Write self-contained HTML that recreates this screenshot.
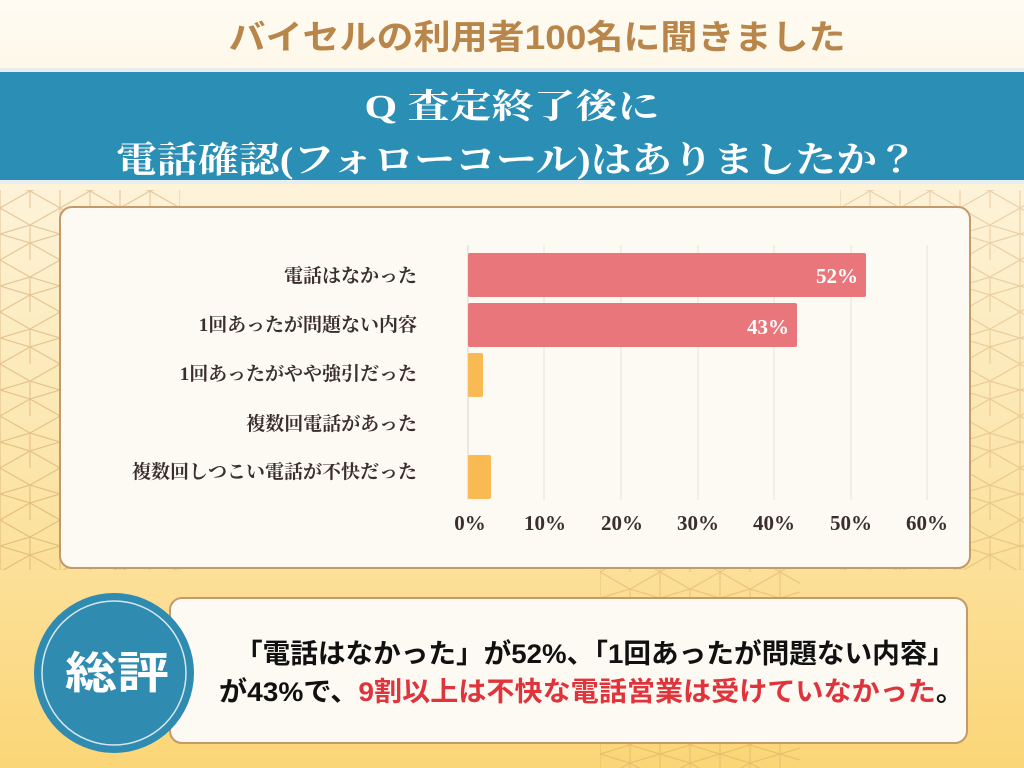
<!DOCTYPE html>
<html><head><meta charset="utf-8"><style>
html,body{margin:0;padding:0;width:1024px;height:768px;overflow:hidden}
svg{display:block}
.s{font-family:"Liberation Serif","Noto Serif CJK JP","Noto Serif CJK SC",serif;font-weight:bold}
.g{font-family:"Liberation Sans","Noto Sans CJK JP",sans-serif;font-weight:bold}
</style></head><body>
<svg width="1024" height="768" viewBox="0 0 1024 768" xmlns="http://www.w3.org/2000/svg">
<defs>
<linearGradient id="bg" x1="0" y1="0" x2="0" y2="1">
<stop offset="0" stop-color="#fffbf3"/><stop offset="0.3" stop-color="#fdf1d2"/><stop offset="1" stop-color="#fbd677"/>
</linearGradient>
<pattern id="asa" width="60" height="52" patternUnits="userSpaceOnUse">
<g stroke="#c9965a" stroke-width="1.2" fill="none">
<path d="M0 0L30 17L60 0M30 17L30 52M0 52L30 35L60 52M0 0L0 52M60 0L60 52M0 26L30 17L60 26L30 35Z"/>
</g>
</pattern>
</defs>
<rect width="1024" height="768" fill="url(#bg)"/>
<rect x="0" y="190" width="180" height="380" fill="url(#asa)" opacity="0.45"/>
<rect x="840" y="190" width="184" height="380" fill="url(#asa)" opacity="0.35"/>
<rect x="600" y="565" width="200" height="40" fill="url(#asa)" opacity="0.35"/>
<rect x="600" y="740" width="200" height="28" fill="url(#asa)" opacity="0.35"/>
<text class="g" x="537" y="49" text-anchor="middle" font-size="34" fill="#b8864a" textLength="617" lengthAdjust="spacingAndGlyphs">バイセルの利用者100名に聞きました</text>
<rect x="0" y="68" width="1024" height="116" fill="#e8eef0"/>
<rect x="0" y="72" width="1024" height="108" fill="#2b8fb5"/>
<text class="s" x="512" y="118" text-anchor="middle" font-size="34" fill="#fff" textLength="295" lengthAdjust="spacingAndGlyphs">Q 査定終了後に</text>
<text class="s" x="517" y="172" text-anchor="middle" font-size="36" fill="#fff" textLength="802" lengthAdjust="spacingAndGlyphs">電話確認(フォローコール)はありましたか？</text>
<rect x="60" y="207" width="910" height="361" rx="12" fill="#fdfaf3" stroke="#c39a6a" stroke-width="2"/>
<g stroke="#e6e2da" stroke-width="1">
<line x1="544" y1="245" x2="544" y2="500"/><line x1="621" y1="245" x2="621" y2="500"/><line x1="698" y1="245" x2="698" y2="500"/><line x1="774" y1="245" x2="774" y2="500"/><line x1="851" y1="245" x2="851" y2="500"/><line x1="927" y1="245" x2="927" y2="500"/>
<line x1="468" y1="245" x2="468" y2="500" stroke="#d8d4cc"/>
</g>
<rect x="468" y="253" width="398" height="44" rx="2" fill="#e8767a"/>
<rect x="468" y="303" width="329" height="44" rx="2" fill="#e8767a"/>
<rect x="468" y="353" width="15" height="44" rx="2" fill="#f9b953"/>
<rect x="468" y="455" width="23" height="44" rx="2" fill="#f9b953"/>
<text class="s" x="858" y="283" text-anchor="end" font-size="21" fill="#fff">52%</text>
<text class="s" x="789" y="334" text-anchor="end" font-size="21" fill="#fff">43%</text>
<g class="s" font-size="19" fill="#3a2f2c" text-anchor="end">
<text x="417" y="282">電話はなかった</text>
<text x="417" y="331">1回あったが問題ない内容</text>
<text x="417" y="380">1回あったがやや強引だった</text>
<text x="417" y="430">複数回電話があった</text>
<text x="417" y="478">複数回しつこい電話が不快だった</text>
</g>
<g class="s" font-size="21" fill="#3a2f2c" text-anchor="middle">
<text x="470" y="530">0%</text><text x="545" y="530">10%</text><text x="622" y="530">20%</text><text x="698" y="530">30%</text><text x="774" y="530">40%</text><text x="851" y="530">50%</text><text x="927" y="530">60%</text>
</g>
<rect x="170" y="598" width="797" height="145" rx="12" fill="#fdfaf3" stroke="#c39a6a" stroke-width="2"/>
<circle cx="114" cy="673" r="80" fill="#2f8bb0"/>
<circle cx="114" cy="673" r="72" fill="none" stroke="#fff" stroke-width="1.5" opacity="0.8"/>
<text class="g" x="117" y="688" text-anchor="middle" font-size="44" fill="#fff" textLength="104" lengthAdjust="spacingAndGlyphs">総評</text>
<text class="g" x="235" y="663" font-size="27" fill="#111" textLength="720" lengthAdjust="spacingAndGlyphs">「電話はなかった」が52%、「1回あったが問題ない内容」</text>
<text class="g" x="219" y="701" font-size="27" fill="#111" textLength="745" lengthAdjust="spacingAndGlyphs">が43%で、<tspan fill="#e0343c">9割以上は不快な電話営業は受けていなかった</tspan>。</text>
</svg>
</body></html>
